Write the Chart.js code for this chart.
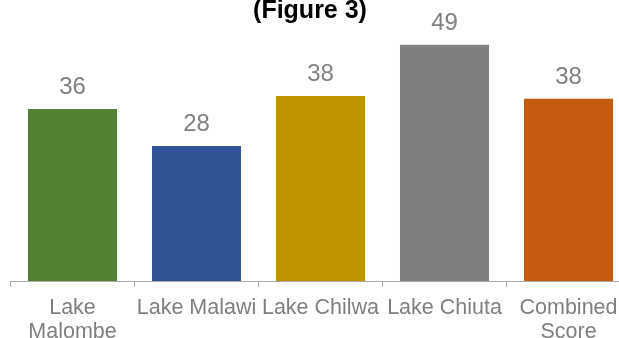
<!DOCTYPE html>
<html>
<head>
<meta charset="utf-8">
<script src="https://cdn.jsdelivr.net/npm/chart.js@4"></script>
<style>
  html, body { margin: 0; padding: 0; background: #fff; overflow: hidden; }
  #wrap { position: absolute; left: 0; top: 0; width: 641px; height: 353px; }
</style>
</head>
<body>
<div id="wrap"><canvas id="chart"></canvas></div>
<script>
// Data
const categories = [['Lake', 'Malombe'], 'Lake Malawi', 'Lake Chilwa', 'Lake Chiuta', ['Combined', 'Score']];
const scores = [35.7, 28, 38.4, 49, 37.8];
const barColors = ['#548235', '#2F5597', '#BF9000', '#7F7F7F', '#C55A11'];
const titleText = '(Figure 3)';

// Draws the value above each bar
const valueLabels = {
  id: 'valueLabels',
  afterDatasetsDraw(chart) {
    const ctx = chart.ctx;
    const meta = chart.getDatasetMeta(0);
    ctx.save();
    ctx.font = '24px "Liberation Sans", Arial, sans-serif';
    ctx.fillStyle = '#808080';
    ctx.textAlign = 'center';
    ctx.textBaseline = 'alphabetic';
    meta.data.forEach(function (bar, i) {
      ctx.fillText(Math.round(scores[i]), bar.x, bar.y - 15);
    });
    ctx.restore();
  }
};

// Title sits a little left of centre, as in the original
const figureTitle = {
  id: 'figureTitle',
  afterDraw(chart) {
    const ctx = chart.ctx;
    ctx.save();
    ctx.font = 'bold 25px "Liberation Sans", Arial, sans-serif';
    ctx.fillStyle = '#000';
    ctx.textAlign = 'center';
    ctx.textBaseline = 'alphabetic';
    ctx.fillText(titleText, 310, 18);
    ctx.restore();
  }
};

new Chart(document.getElementById('chart'), {
  type: 'bar',
  data: {
    labels: categories,
    datasets: [{
      data: scores,
      backgroundColor: barColors,
      borderWidth: 0,
      categoryPercentage: 1,
      barPercentage: 0.718
    }]
  },
  options: {
    responsive: true,
    maintainAspectRatio: false,
    animation: false,
    layout: {
      padding: { top: 40, right: 10.5, bottom: 0, left: 10.5 }
    },
    plugins: {
      legend: { display: false },
      tooltip: { enabled: false }
    },
    scales: {
      x: {
        border: { display: true, color: '#ABABAB', width: 1 },
        grid: {
          display: true,
          drawOnChartArea: false,
          drawTicks: true,
          tickLength: 6,
          color: '#ABABAB',
          offset: true
        },
        ticks: {
          color: '#7F7F7F',
          padding: 9,
          maxRotation: 0,
          autoSkip: false,
          font: { family: '"Liberation Sans", Arial, sans-serif', size: 21.5, lineHeight: '24px' }
        }
      },
      y: {
        display: false,
        min: 0,
        max: 50
      }
    }
  },
  plugins: [valueLabels, figureTitle]
});
</script>
</body>
</html>
